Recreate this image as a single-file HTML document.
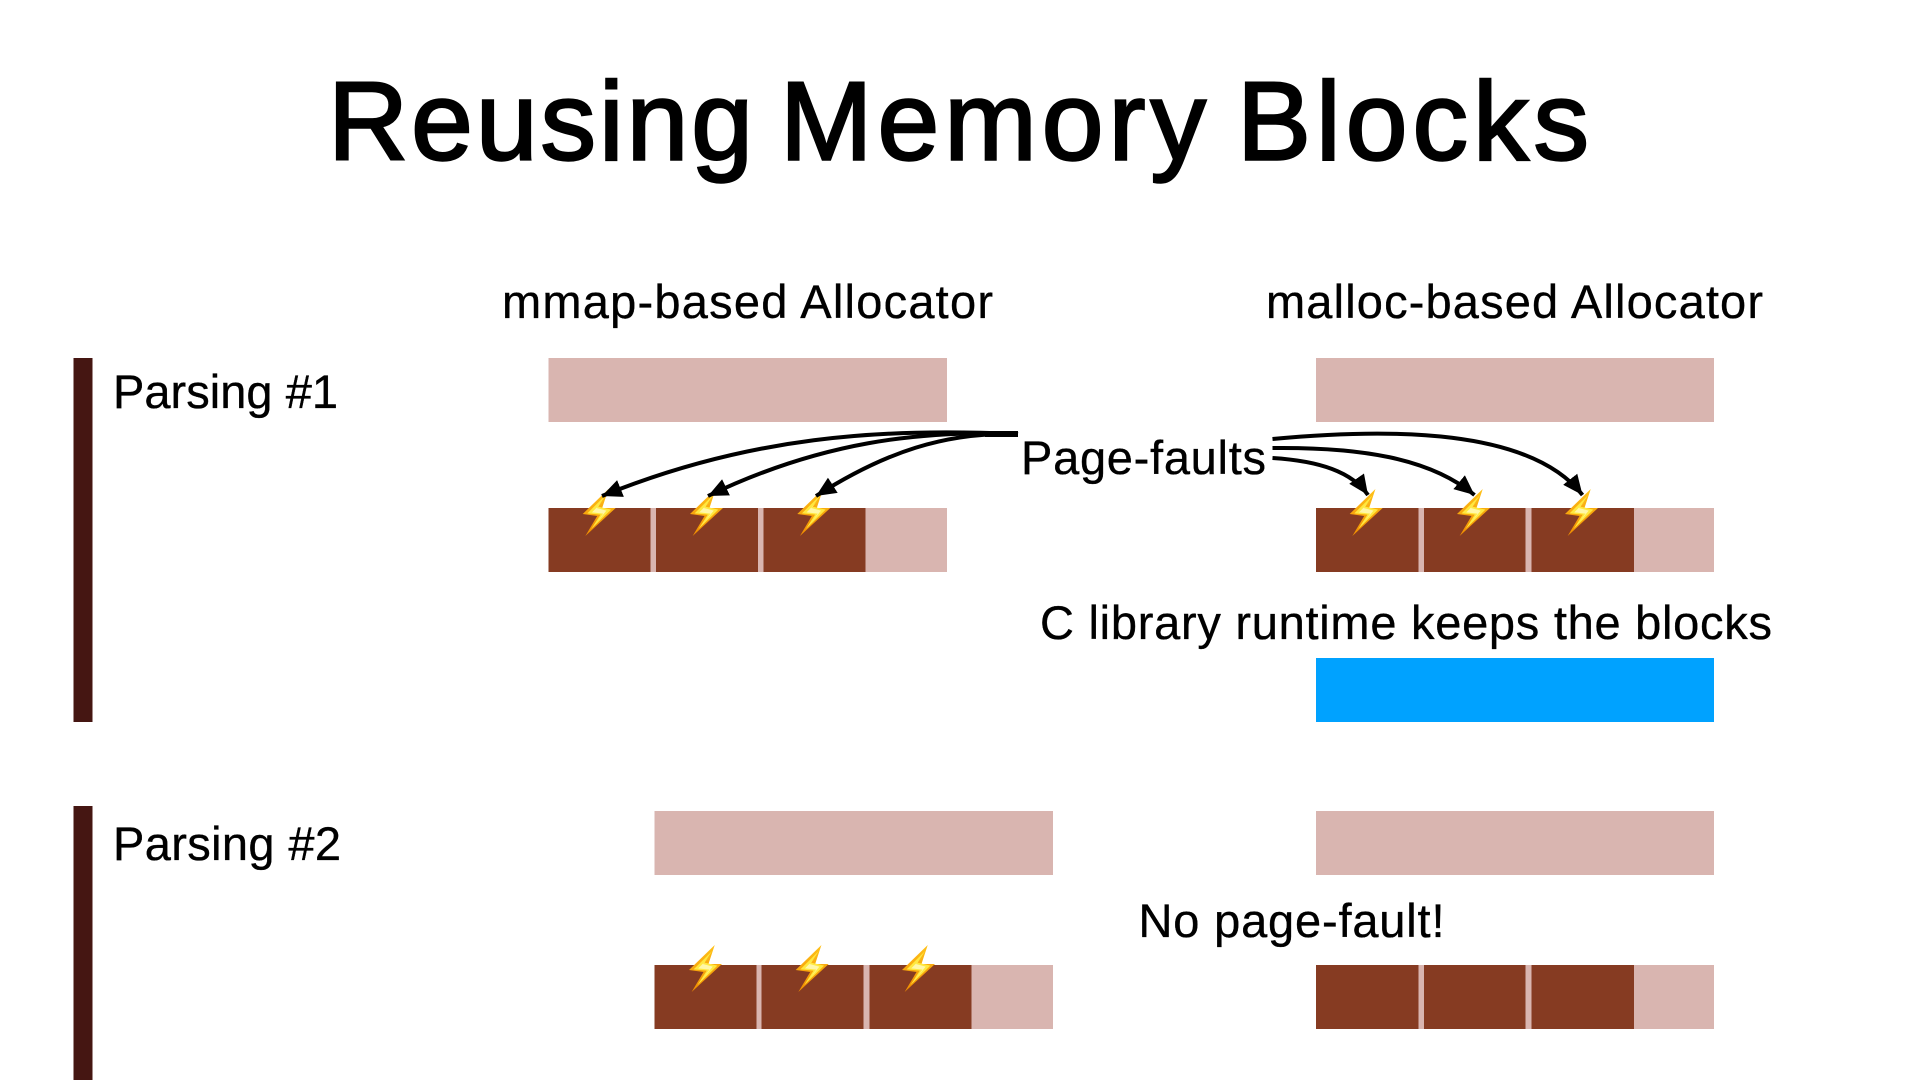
<!DOCTYPE html>
<html lang="en">
<head>
<meta charset="utf-8">
<title>Reusing Memory Blocks</title>
<style>
html,body{margin:0;padding:0;background:#fff;width:1920px;height:1080px;overflow:hidden}
svg{display:block}
text{font-family:"Liberation Sans",Arial,sans-serif;fill:#000}
.l{stroke:#000;stroke-width:.35px}
</style>
</head>
<body>
<svg width="1920" height="1080" viewBox="0 0 1920 1080" xmlns="http://www.w3.org/2000/svg">
<defs>
<marker id="ah" markerUnits="userSpaceOnUse" markerWidth="22" markerHeight="20" refX="20" refY="10" orient="auto">
<path d="M0 1 L20 10 L0 19 Z" fill="#000"/>
</marker>
<linearGradient id="bo" x1="0" y1="0" x2="0" y2="1">
<stop offset="0" stop-color="#ffc21a"/><stop offset="1" stop-color="#f08c00"/>
</linearGradient>
<symbol id="bolt" viewBox="0 0 100 141" preserveAspectRatio="none" overflow="visible">
<polygon points="78,0 0,75 44,81 8,141 100,57 59,57" fill="url(#bo)"/>
<polygon points="70,18 14,73 54,77 26,120 86,62 47,53" fill="#ffe83f"/>
<polygon points="64,34 28,70 62,74 46,96 72,65 42,57" fill="#fff7a8"/>
</symbol>
</defs>

<g font-size="111" stroke="#000" stroke-width="2.4">
<text x="328" y="159.5" textLength="425" lengthAdjust="spacing">Reusing</text>
<text x="780" y="159.5" textLength="426" lengthAdjust="spacing">Memory</text>
<text x="1237" y="159.5" textLength="352" lengthAdjust="spacing">Blocks</text>
</g>
<text class="l" x="502" y="318" font-size="47" textLength="491" lengthAdjust="spacing">mmap-based Allocator</text>
<text class="l" x="1266" y="318" font-size="47" textLength="497" lengthAdjust="spacing">malloc-based Allocator</text>
<text class="l" x="113" y="408" font-size="47" textLength="225" lengthAdjust="spacing">Parsing #1</text>
<text class="l" x="113" y="860" font-size="47" textLength="228" lengthAdjust="spacing">Parsing #2</text>
<text class="l" x="1021" y="474" font-size="47" textLength="245" lengthAdjust="spacing">Page-faults</text>
<text class="l" x="1040" y="639" font-size="47" textLength="732" lengthAdjust="spacing">C library runtime keeps the blocks</text>
<text class="l" x="1138.5" y="937" font-size="47" textLength="306" lengthAdjust="spacing">No page-fault!</text>

<!-- side bars -->
<rect x="73.5" y="358" width="19" height="364" fill="#451612"/>
<rect x="73.5" y="806" width="19" height="274" fill="#451612"/>

<!-- Parsing 1 mmap -->
<rect x="548.5" y="358" width="398.5" height="64" fill="#d9b5b0"/>
<rect x="548.5" y="508" width="398.5" height="64" fill="#d9b5b0"/>
<rect x="548.5" y="508" width="102" height="64" fill="#863b22"/>
<rect x="656" y="508" width="102" height="64" fill="#863b22"/>
<rect x="763.5" y="508" width="102" height="64" fill="#863b22"/>

<!-- Parsing 1 malloc -->
<rect x="1316" y="358" width="398" height="64" fill="#d9b5b0"/>
<rect x="1316" y="508" width="398" height="64" fill="#d9b5b0"/>
<rect x="1316" y="508" width="102.5" height="64" fill="#863b22"/>
<rect x="1424" y="508" width="101.5" height="64" fill="#863b22"/>
<rect x="1531.5" y="508" width="102.5" height="64" fill="#863b22"/>
<rect x="1316" y="658" width="398" height="64" fill="#00a2ff"/>

<!-- Parsing 2 mmap -->
<rect x="654.5" y="811" width="398.5" height="64" fill="#d9b5b0"/>
<rect x="654.5" y="965" width="398.5" height="64" fill="#d9b5b0"/>
<rect x="654.5" y="965" width="102" height="64" fill="#863b22"/>
<rect x="761.5" y="965" width="102" height="64" fill="#863b22"/>
<rect x="869.5" y="965" width="102" height="64" fill="#863b22"/>

<!-- Parsing 2 malloc -->
<rect x="1316" y="811" width="398" height="64" fill="#d9b5b0"/>
<rect x="1316" y="965" width="398" height="64" fill="#d9b5b0"/>
<rect x="1316" y="965" width="102.5" height="64" fill="#863b22"/>
<rect x="1424" y="965" width="101.5" height="64" fill="#863b22"/>
<rect x="1531.5" y="965" width="102.5" height="64" fill="#863b22"/>

<!-- bolts -->
<use href="#bolt" x="582.7" y="489" width="33" height="47"/>
<use href="#bolt" x="690" y="489" width="33" height="47"/>
<use href="#bolt" x="797.3" y="489" width="33" height="47"/>
<use href="#bolt" x="1349.7" y="489" width="33" height="47"/>
<use href="#bolt" x="1457" y="489" width="33" height="47"/>
<use href="#bolt" x="1565" y="489" width="33" height="47"/>
<use href="#bolt" x="689" y="945" width="33" height="47"/>
<use href="#bolt" x="795.7" y="945" width="33" height="47"/>
<use href="#bolt" x="902" y="945" width="33" height="47"/>

<!-- arrows -->
<g fill="none" stroke="#000" stroke-width="4">
<path d="M1018 434 C 880 428 750 436 602 496" marker-end="url(#ah)"/>
<path d="M1018 434 C 920 430 820 442 708 496" marker-end="url(#ah)"/>
<path d="M1018 434 C 945 432 885 452 816 496" marker-end="url(#ah)"/>
<path d="M1272.5 458 C 1320 461 1352 472 1368 495" marker-end="url(#ah)"/>
<path d="M1272.5 448 C 1360 447 1430 458 1474.5 495" marker-end="url(#ah)"/>
<path d="M1272.5 439 C 1390 428 1530 428 1582.5 495" marker-end="url(#ah)"/>
</g>
<rect x="985" y="431" width="33" height="6" fill="#000"/>
</svg>
</body>
</html>
